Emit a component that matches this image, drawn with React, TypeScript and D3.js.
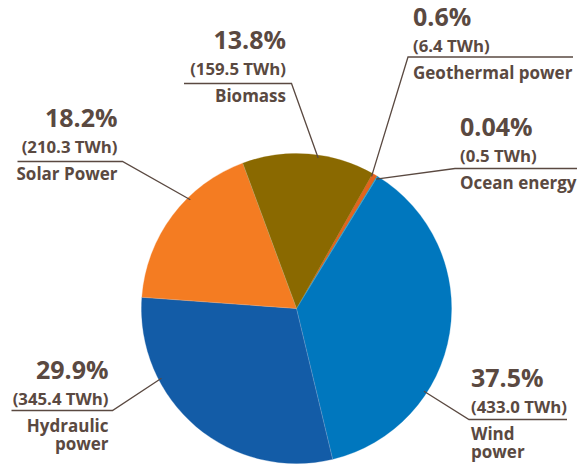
import React, { useEffect, useRef } from 'react';
import * as d3 from 'd3';

// Electricity generation by renewable source (slice order clockwise, starting at geothermal)
const sources = ['Geothermal power', 'Ocean energy', 'Wind power', 'Hydraulic power', 'Solar Power', 'Biomass'];
const twh = [6.4, 0.5, 433.0, 345.4, 210.3, 159.5];
const shares = ['0.6%', '0.04%', '37.5%', '29.9%', '18.2%', '13.8%'];
const colors = ['#e2641f', '#23a3b8', '#0077be', '#135ca7', '#f47c22', '#8a6900'];

// label layout: anchor angle on the rim (deg), knee point, end of underline, text anchor x, baselines
const labelLayout = [
  { angle: 29.6, knee: [408, 57], end: 573, tx: 413, anchor: 'start', lines: ['Geothermal power'], y: 26 },
  { angle: 31.6, knee: [455, 168.5], end: 577, tx: 460, anchor: 'start', lines: ['Ocean energy'], y: 136 },
  { angle: 123, knee: [469, 419.5], end: 567, tx: 471, anchor: 'start', lines: ['Wind', 'power'], y: 386.5 },
  { angle: 242.7, knee: [112.5, 410.5], end: 11.5, tx: 108.5, anchor: 'end', lines: ['Hydraulic', 'power'], y: 379 },
  { angle: 315.7, knee: [122.5, 161.5], end: 17.5, tx: 117.5, anchor: 'end', lines: ['Solar Power'], y: 127.3 },
  { angle: 8.2, knee: [291.5, 83.5], end: 184, tx: 286, anchor: 'end', lines: ['Biomass'], y: 49.3 },
];

const W = 584;
const H = 470;
const cx = 296.5;
const cy = 308.5;
const R = 155;
const textColor = '#5a4941';
const font = '"Open Sans", "DejaVu Sans", sans-serif';

const App: React.FC = () => {
  const svgRef = useRef<SVGSVGElement>(null);

  useEffect(() => {
    if (!svgRef.current) return;
    const svg = d3.select(svgRef.current);
    svg.selectAll('*').remove();

    const data = sources.map((name, i) => ({ name, value: twh[i], share: shares[i], color: colors[i] }));
    const start = (29.4 * Math.PI) / 180;
    const pie = d3.pie<any>().sort(null).value(d => d.value).startAngle(start).endAngle(start + 2 * Math.PI);
    const arc = d3.arc<any>().innerRadius(0).outerRadius(R);

    const g = svg.append('g').attr('transform', `translate(${cx},${cy})`);
    g.selectAll('path')
      .data(pie(data))
      .join('path')
      .attr('d', arc)
      .attr('fill', d => d.data.color)
      .attr('stroke', d => d.data.color)
      .attr('stroke-width', d => (d.data.value < 1 ? 0.8 : 0.3));

    // thin light seams between the big slices
    g.selectAll('line.seam')
      .data(pie(data).filter(d => d.data.value > 100))
      .join('line')
      .attr('class', 'seam')
      .attr('x1', 0)
      .attr('y1', 0)
      .attr('x2', d => R * Math.sin(d.startAngle))
      .attr('y2', d => -R * Math.cos(d.startAngle))
      .attr('stroke', '#ffffff')
      .attr('stroke-opacity', 0.35)
      .attr('stroke-width', 0.6);

    const labels = svg.append('g');
    data.forEach((d, i) => {
      const L = labelLayout[i];
      const a = (L.angle * Math.PI) / 180;
      const px = cx + (R - 3) * Math.sin(a);
      const py = cy - (R - 3) * Math.cos(a);
      labels.append('path')
        .attr('d', d3.line()([[px, py], L.knee as [number, number], [L.end, L.knee[1]]]))
        .attr('fill', 'none')
        .attr('stroke', textColor)
        .attr('stroke-width', 1.3);

      const t = labels.append('g')
        .attr('fill', textColor)
        .attr('font-family', font)
        .attr('font-weight', 700)
        .attr('text-anchor', L.anchor);
      t.append('text').attr('x', L.tx).attr('y', L.y).attr('font-size', 25).text(d.share);
      t.append('text').attr('x', L.tx).attr('y', L.y + 26).attr('font-size', 16.8).text(`(${d.value.toFixed(1)} TWh)`);
      // source name, wrapped onto tight lines like the original
      const name = t.append('text').attr('x', L.tx).attr('y', L.y + 53).attr('font-size', 17);
      L.lines.forEach((ln, j) => {
        name.append('tspan')
          .attr('x', L.tx)
          .attr('dy', j === 0 ? 0 : 18)
          .text(ln);
      });
    });
  }, []);

  return (
    <div style={{ position: 'absolute', left: 0, top: 0, width: W, height: H, background: '#fff' }}>
      <svg ref={svgRef} width={W} height={H} viewBox={`0 0 ${W} ${H}`} />
    </div>
  );
};

export default App;
